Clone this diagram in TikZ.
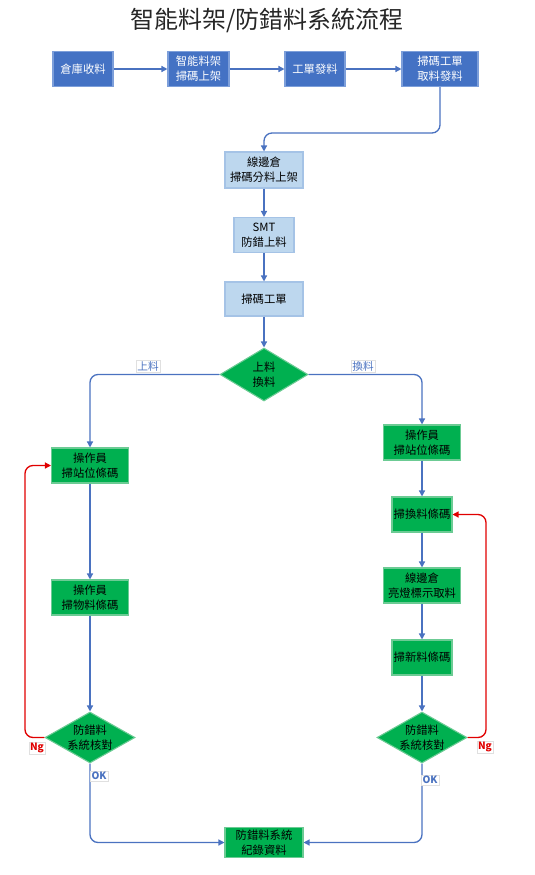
\documentclass[tikz,border=0pt]{standalone}
\usepackage{fontspec}
\setmainfont{Noto Sans CJK TC}
\usetikzlibrary{shapes.geometric,arrows.meta}
\newdimen\pxu \pxu=0.75pt
\definecolor{dblue}{HTML}{4472C4}
\definecolor{dbluebd}{HTML}{7D9FDA}
\definecolor{lblue}{HTML}{BDD7EE}
\definecolor{lbluebd}{HTML}{A5C3E6}
\definecolor{gfill}{HTML}{00B050}
\definecolor{gbd}{HTML}{6CCB94}
\definecolor{conn}{HTML}{4A72C0}
\definecolor{loopred}{HTML}{E00000}
\tikzset{
  base/.style={rectangle, inner sep=0pt, align=center, font=\fontsize{8.5pt}{11pt}\selectfont, line width=0.8pt},
  dbox/.style={base, fill=dblue, draw=dbluebd, text=white},
  lbox/.style={base, fill=lblue, draw=lbluebd, text=black},
  gbox/.style={base, fill=gfill, draw=gbd, text=black},
  gdia/.style={diamond, aspect=1.7, inner sep=-3pt, align=center, fill=gfill, draw=gbd, line width=0.8pt, text=black, font=\fontsize{8.5pt}{11pt}\selectfont},
  conn/.style={draw=conn, line width=1pt, rounded corners=8\pxu, -{Triangle[length=4.5pt,width=4.5pt]}},
  redconn/.style={draw=loopred, line width=1pt, rounded corners=8\pxu, -{Triangle[length=4.5pt,width=4.5pt]}},
  lab/.style={fill=white, draw=black!12, line width=0.3pt, inner sep=1pt, font=\fontsize{8pt}{9pt}\selectfont, text=conn},
  redlab/.style={lab, text=loopred, font=\fontsize{7.5pt}{9pt}\selectfont\bfseries}
}
\begin{document}
\begin{tikzpicture}[x=0.75pt,y=-0.75pt]
\useasboundingbox (0,0) rectangle (535,875);
\node[font=\fontsize{18pt}{20pt}\selectfont, text=black!85] (title) at (267,20) {智能料架/防錯料系統流程};
% top row
\node[dbox, minimum width=60\pxu, minimum height=35\pxu] (n1) at (83,69) {倉庫收料};
\node[dbox, minimum width=61\pxu, minimum height=35\pxu] (n2) at (198.5,69) {智能料架\\掃碼上架};
\node[dbox, minimum width=60\pxu, minimum height=35\pxu] (n3) at (315,69) {工單發料};
\node[dbox, minimum width=76\pxu, minimum height=35\pxu] (n4) at (440,69) {掃碼工單\\取料發料};
% middle
\node[lbox, minimum width=78\pxu, minimum height=36\pxu] (m1) at (264,170) {線邊倉\\掃碼分料上架};
\node[lbox, minimum width=60\pxu, minimum height=35\pxu] (m2) at (264,235) {SMT\\防錯上料};
\node[lbox, minimum width=78\pxu, minimum height=34\pxu] (m3) at (264,299) {掃碼工單};
\node[gdia, minimum width=88\pxu, minimum height=53\pxu] (d0) at (264,374.5) {上料\\換料};
% left branch
\node[gbox, minimum width=77\pxu, minimum height=35\pxu] (L1) at (90,465.5) {操作員\\掃站位條碼};
\node[gbox, minimum width=77\pxu, minimum height=35\pxu] (L2) at (90,597.5) {操作員\\掃物料條碼};
\node[gdia, minimum width=90\pxu, minimum height=51\pxu] (Ld) at (90,737.5) {防錯料\\系統核對};
% right branch
\node[gbox, minimum width=77\pxu, minimum height=35\pxu] (R1) at (422,442.5) {操作員\\掃站位條碼};
\node[gbox, minimum width=60\pxu, minimum height=35\pxu] (R2) at (422,514.5) {掃換料條碼};
\node[gbox, minimum width=77\pxu, minimum height=35\pxu] (R3) at (422,585.5) {線邊倉\\亮燈標示取料};
\node[gbox, minimum width=60\pxu, minimum height=35\pxu] (R4) at (422,657.5) {掃新料條碼};
\node[gdia, minimum width=90\pxu, minimum height=51\pxu] (Rd) at (422,737.5) {防錯料\\系統核對};
% bottom
\node[gbox, minimum width=78\pxu, minimum height=30\pxu] (B) at (264,842.5) {防錯料系統\\紀錄資料};
% connectors
\draw[conn] (n1) -- (n2);
\draw[conn] (n2) -- (n3);
\draw[conn] (n3) -- (n4);
\coordinate (c1) at (440,133);
\draw[conn] (n4.south) -- (c1) -| (m1.north);
\draw[conn] (m1) -- (m2);
\draw[conn] (m2) -- (m3);
\draw[conn] (m3) -- (d0);
\draw[conn] (d0.west) -| (L1.north);
\draw[conn] (d0.east) -| (R1.north);
\draw[conn] (L1) -- (L2);
\draw[conn] (L2) -- (Ld);
\draw[conn] (R1) -- (R2);
\draw[conn] (R2) -- (R3);
\draw[conn] (R3) -- (R4);
\draw[conn] (R4) -- (Rd);
\draw[conn] (Ld.south) |- (B.west);
\draw[conn] (Rd.south) |- (B.east);
\coordinate (lx) at (25,600);
\coordinate (rx) at (486,600);
\draw[redconn] (Ld.west) -| (lx) |- (L1.west);
\draw[redconn] (Rd.east) -| (rx) |- (R2.east);
% labels
\node[lab] (t1) at (148,366) {上料};
\node[lab] (t2) at (363,366) {換料};
\node[redlab] (ng1) at (37,748) {Ng};
\node[redlab] (ng2) at (485,747) {Ng};
\node[lab, font=\fontsize{7.5pt}{9pt}\selectfont\bfseries] (ok1) at (99,776) {OK};
\node[lab, font=\fontsize{7.5pt}{9pt}\selectfont\bfseries] (ok2) at (430,780) {OK};
\end{tikzpicture}
\end{document}
